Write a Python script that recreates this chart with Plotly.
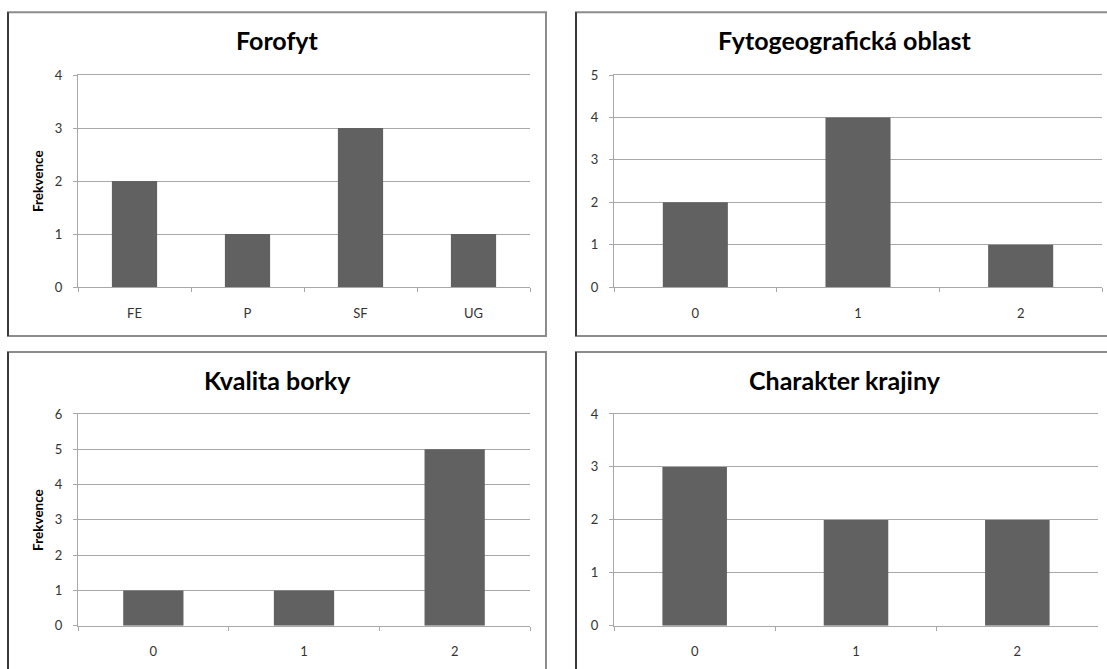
import plotly.graph_objects as go

# Frequencies per category for each of the four characteristics
forofyt_cats = ["FE", "P", "SF", "UG"]
forofyt_vals = [2, 1, 3, 1]

fyto_cats = ["0", "1", "2"]
fyto_vals = [2, 4, 1]

borka_cats = ["0", "1", "2"]
borka_vals = [1, 1, 5]

krajina_cats = ["0", "1", "2"]
krajina_vals = [3, 2, 2]

titles = ["Forofyt", "Fytogeografická oblast", "Kvalita borky", "Charakter krajiny"]
y_max = [4, 5, 6, 4]
y_title = "Frekvence"

W, H = 1107, 669
PAGE_H = H + 16   # page height including the default 8px body margins
FONT = "Lato"
BAR = "#616161"
GRID = "#a8a8a8"
TXT = "#333333"


def px(x):
    return x / W


def py(y):
    # screen row -> paper fraction, allowing for the body margin of the page
    return 1 - (y * PAGE_H / H - 8) / H


# plot boxes (left, top, right, bottom) and chart frames in screen pixels
panels = [
    dict(cats=forofyt_cats, vals=forofyt_vals, box=(78, 75, 530, 287),
         frame=(8, 12, 546, 336), ylab=True),
    dict(cats=fyto_cats, vals=fyto_vals, box=(614, 75, 1102, 287),
         frame=(576, 12, 1114, 336), ylab=False),
    dict(cats=borka_cats, vals=borka_vals, box=(78, 414, 530, 626),
         frame=(8, 352, 546, 676), ylab=True),
    dict(cats=krajina_cats, vals=krajina_vals, box=(614, 414, 1098, 626),
         frame=(576, 352, 1114, 676), ylab=False),
]

fig = go.Figure()
shapes = []
annotations = []

for i, p in enumerate(panels):
    n = "" if i == 0 else str(i + 1)
    xa, ya = "x" + n, "y" + n
    fig.add_trace(go.Bar(x=p["cats"], y=p["vals"], xaxis=xa, yaxis=ya,
                         marker=dict(color=BAR, line=dict(width=0)),
                         showlegend=False, hoverinfo="x+y"))
    l, t, r, b = p["box"]
    # mirrored x line doubles as the top gridline
    fig.layout["xaxis" + n] = dict(
        domain=[px(l), px(r)], anchor=ya, type="category",
        showline=True, mirror=True, linecolor=GRID, linewidth=1,
        ticks="outside", tickson="boundaries", ticklen=4, tickcolor=GRID,
        showgrid=False, zeroline=False, fixedrange=True,
        tickfont=dict(family=FONT, size=13, color=TXT), ticklabelstandoff=14,
    )
    fig.layout["yaxis" + n] = dict(
        domain=[py(b), py(t)], anchor=xa, range=[0, y_max[i]],
        tick0=0, dtick=1,
        showline=True, linecolor=GRID, linewidth=1,
        ticks="outside", ticklen=4, tickcolor=GRID,
        showgrid=True, gridcolor=GRID, gridwidth=1, zeroline=False,
        fixedrange=True,
        tickfont=dict(family=FONT, size=13, color=TXT), ticklabelstandoff=8,
    )

    fl, ft, fr, fb = p["frame"]
    shapes.append(dict(type="rect", xref="paper", yref="paper",
                       x0=px(fl), x1=px(fr), y0=py(fb), y1=py(ft),
                       line=dict(color="#8c8c8c", width=2), layer="below"))
    shapes.append(dict(type="line", xref="paper", yref="paper",
                       x0=px(fl), x1=px(fl), y0=py(fb), y1=py(ft),
                       line=dict(color="#3a3a3a", width=2)))

    cx = (fl + fr) / 2
    annotations.append(dict(text="<b>%s</b>" % titles[i], xref="paper", yref="paper",
                            x=px(cx), y=py(ft + 28), xanchor="center", yanchor="middle",
                            showarrow=False,
                            font=dict(family=FONT, size=25, color="#000000")))
    if p["ylab"]:
        annotations.append(dict(text="<b>%s</b>" % y_title, xref="paper", yref="paper",
                                x=px(38), y=py((t + b) / 2), xanchor="center",
                                yanchor="middle", textangle=-90, showarrow=False,
                                font=dict(family=FONT, size=13.5, color="#000000")))

fig.update_layout(
    width=W, height=H, margin=dict(l=0, r=0, t=0, b=0),
    paper_bgcolor="white", plot_bgcolor="white",
    bargap=0.6, shapes=shapes, annotations=annotations,
)

fig.write_html("out.html", config={"displayModeBar": False})
